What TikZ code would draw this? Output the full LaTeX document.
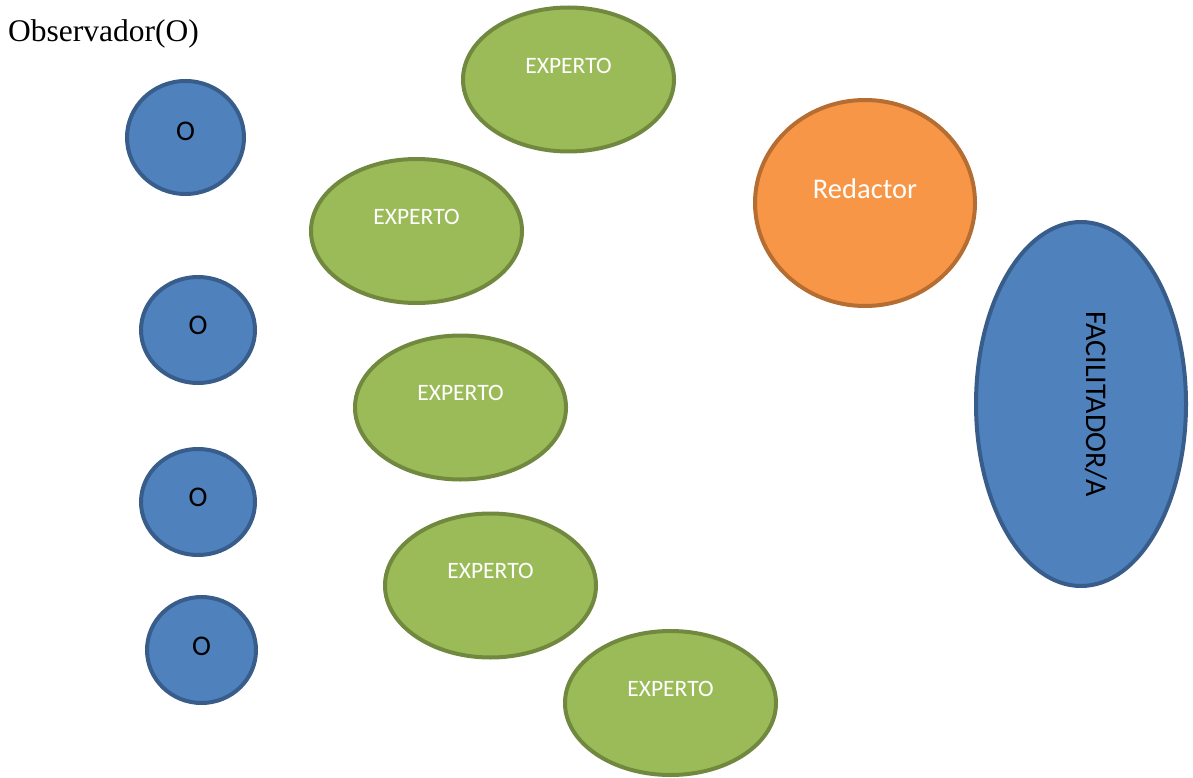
\documentclass[tikz,border=0pt]{standalone}
\usepackage{fontspec}
\setmainfont{Liberation Serif}
\setsansfont{Carlito}
\usepackage{tikz}
\usetikzlibrary{shapes.geometric}
\definecolor{obsfill}{HTML}{4F81BD}
\definecolor{obsline}{HTML}{385D8A}
\definecolor{expfill}{HTML}{9BBB59}
\definecolor{expline}{HTML}{71893F}
\definecolor{redfill}{HTML}{F79646}
\definecolor{redline}{HTML}{B66D31}
\tikzstyle{blob} = [ellipse, line width=4pt, inner sep=0pt]
\tikzstyle{obs} = [blob, draw=obsline, fill=obsfill]
\tikzstyle{expert} = [blob, draw=expline, fill=expfill, minimum width=211pt, minimum height=144pt]
\tikzstyle{redac} = [blob, draw=redline, fill=redfill, minimum width=220pt, minimum height=206pt]
\tikzstyle{facil} = [blob, draw=obsline, fill=obsfill, minimum width=210pt, minimum height=364pt]
\tikzstyle{lbl} = [inner sep=0pt, font=\sffamily\fontsize{23.5}{28}\selectfont, text=white]
\tikzstyle{big} = [inner sep=0pt, font=\sffamily\fontsize{28.5}{34}\selectfont]

\begin{document}
\begin{tikzpicture}[yscale=-1]
			\useasboundingbox (0pt,0pt) rectangle (1193pt,778pt);
			\node[anchor=base west, inner sep=0pt, font=\fontsize{31.5}{38}\selectfont] (title) at (8pt,42pt) {Observador(O)};
			\node[obs, minimum width=117pt, minimum height=113pt] (o1) at (185.5pt,137.5pt) {};
			\node[big] (o1t) at (185.5pt,131pt) {O};
			\node[obs, minimum width=114pt, minimum height=106pt] (o2) at (198pt,330pt) {};
			\node[big] (o2t) at (198pt,325pt) {O};
			\node[obs, minimum width=114pt, minimum height=106pt] (o3) at (198pt,502pt) {};
			\node[big] (o3t) at (198pt,497pt) {O};
			\node[obs, minimum width=109pt, minimum height=106pt] (o4) at (201.5pt,650pt) {};
			\node[big] (o4t) at (201.5pt,646pt) {O};
			\node[expert] (e1) at (568.5pt,79.5pt) {};
			\node[lbl] (e1t) at (568.5pt,66pt) {EXPERTO};
			\node[expert] (e2) at (416.5pt,231pt) {};
			\node[lbl] (e2t) at (416.5pt,217pt) {EXPERTO};
			\node[expert] (e3) at (460.5pt,407.5pt) {};
			\node[lbl] (e3t) at (460.5pt,393pt) {EXPERTO};
			\node[expert] (e4) at (490.5pt,585.5pt) {};
			\node[lbl] (e4t) at (490.5pt,571pt) {EXPERTO};
			\node[expert] (e5) at (670.5pt,703pt) {};
			\node[lbl] (e5t) at (670.5pt,689pt) {EXPERTO};
			\node[redac] (red) at (865pt,203pt) {};
			\node[big, text=white] (redt) at (865pt,189pt) {Redactor};
			\node[facil] (fac) at (1081pt,404pt) {};
			\node[big, rotate=-90, font=\sffamily\fontsize{30}{36}\selectfont] (fact) at (1096pt,404pt) {FACILITADOR/A};
		\end{tikzpicture}
\end{document}
